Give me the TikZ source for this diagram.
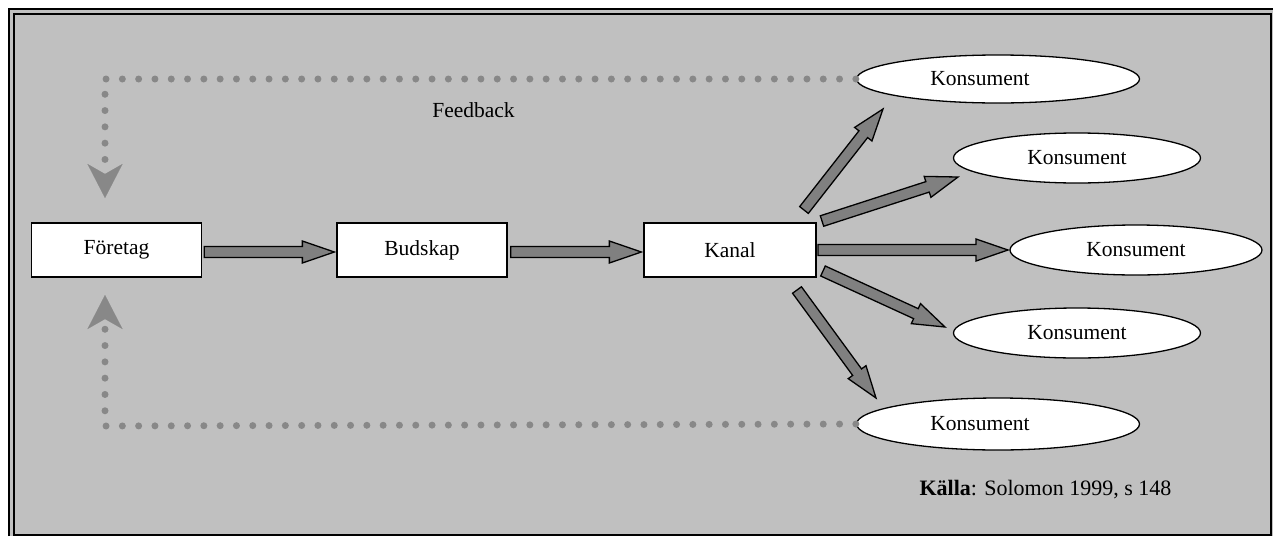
\documentclass[tikz,border=0pt]{standalone}
\usepackage{fontspec}
\setmainfont{Liberation Serif}
\usetikzlibrary{shapes.geometric,arrows.meta,calc}

\definecolor{panelgray}{RGB}{192,192,192}
\definecolor{arrowgray}{RGB}{128,128,128}
\definecolor{dotgray}{RGB}{136,136,136}

% block arrow with outlined shaft and head, from #1 to #2
\newcommand\blockarrow[2]{%
  \draw[flowarrow] let \p1=($(#2)-(#1)$), \n1={atan2(\y1,\x1)}, \n2={veclen(\x1,\y1)} in
    [shift={(#1)},rotate=\n1]
    (0pt,-5.5pt) -- ({\n2*1pt-32pt},-5.5pt) -- ({\n2*1pt-32pt},-11pt) -- ({\n2*1pt},0pt)
    -- ({\n2*1pt-32pt},11pt) -- ({\n2*1pt-32pt},5.5pt) -- (0pt,5.5pt) -- cycle;}

\tikzset{
  stagebox/.style={draw, fill=white, line width=1.3pt, minimum width=170pt,
    minimum height=54pt, inner sep=0pt},
  consumer/.style={ellipse, draw, fill=white, line width=1.3pt, inner sep=0pt},
  flowarrow/.style={draw=black, fill=arrowgray, line width=1.3pt, line join=miter},
  feedback/.style={draw=dotgray, line width=7pt, line cap=round,
    dash pattern=on 0pt off 16.3pt,
    -{Stealth[length=34pt,width=35pt,inset=10pt,line width=0.1pt,fill=dotgray,color=dotgray]}},
}

\begin{document}
\begin{tikzpicture}[x=1pt,y=-1pt,font=\fontsize{21.5}{25}\selectfont]
\useasboundingbox (0,0) rectangle (1275,536);

% panel and frame
\fill[white] (0,0) rectangle (1275,536);
\fill[panelgray] (8,8) rectangle (1273,536);
\draw[line width=2pt] (9,536) -- (9,9) -- (1273,9);
\draw[line width=2pt] (14,14) rectangle (1271,535);

% stages
\node[stagebox] (foretag) at (116.5,250) {Företag};
\node[stagebox] (budskap) at (422,250) {Budskap};
\node[stagebox, minimum width=172pt] (kanal) at (730,250) {Kanal};

% consumers
\node[consumer, minimum width=283pt, minimum height=48pt,
  label={[xshift=-18pt]center:Konsument}] (k1) at (998,79) {};
\node[consumer, minimum width=247pt, minimum height=50pt] (k2) at (1077,158) {Konsument};
\node[consumer, minimum width=252pt, minimum height=50pt] (k3) at (1136,250) {Konsument};
\node[consumer, minimum width=247pt, minimum height=50pt] (k4) at (1077,333) {Konsument};
\node[consumer, minimum width=283pt, minimum height=52pt,
  label={[xshift=-18pt]center:Konsument}] (k5) at (998,424) {};

% main flow
\coordinate (f1s) at ($(foretag.east)+(2,2)$);
\coordinate (f1e) at ($(budskap.west)+(-2,2)$);
\coordinate (f2s) at ($(budskap.east)+(3,2)$);
\coordinate (f2e) at ($(kanal.west)+(-2,2)$);
\blockarrow{f1s}{f1e}
\blockarrow{f2s}{f2e}

% channel to consumers
\coordinate (a1s) at (804,210);  \coordinate (a1e) at (883,109);
\coordinate (a2s) at (822,221);  \coordinate (a2e) at (958,177);
\coordinate (a3s) at (818,250);  \coordinate (a3e) at (1008,250);
\coordinate (a4s) at (823,271);  \coordinate (a4e) at (945,327);
\coordinate (a5s) at (797,290);  \coordinate (a5e) at (876,398);
\blockarrow{a1s}{a1e}
\blockarrow{a2s}{a2e}
\blockarrow{a3s}{a3e}
\blockarrow{a4s}{a4e}
\blockarrow{a5s}{a5e}

% feedback loops
\coordinate (fbtop) at (105,79);
\coordinate (fbtoptip) at (105,198);
\coordinate (fbbot) at (105,426);
\coordinate (fbbottip) at (105,295);
\draw[feedback] (k1.west) -- (fbtop) -- (fbtoptip);
\draw[feedback] (k5.west) -- (fbbot) -- (fbbottip);

\node (fblabel) at (473.5,110) {Feedback};
\node[anchor=base west, font=\fontsize{22}{26}\selectfont] (source) at (916,495)
  {\textbf{Källa}: Solomon 1999, s 148};
\end{tikzpicture}
\end{document}
